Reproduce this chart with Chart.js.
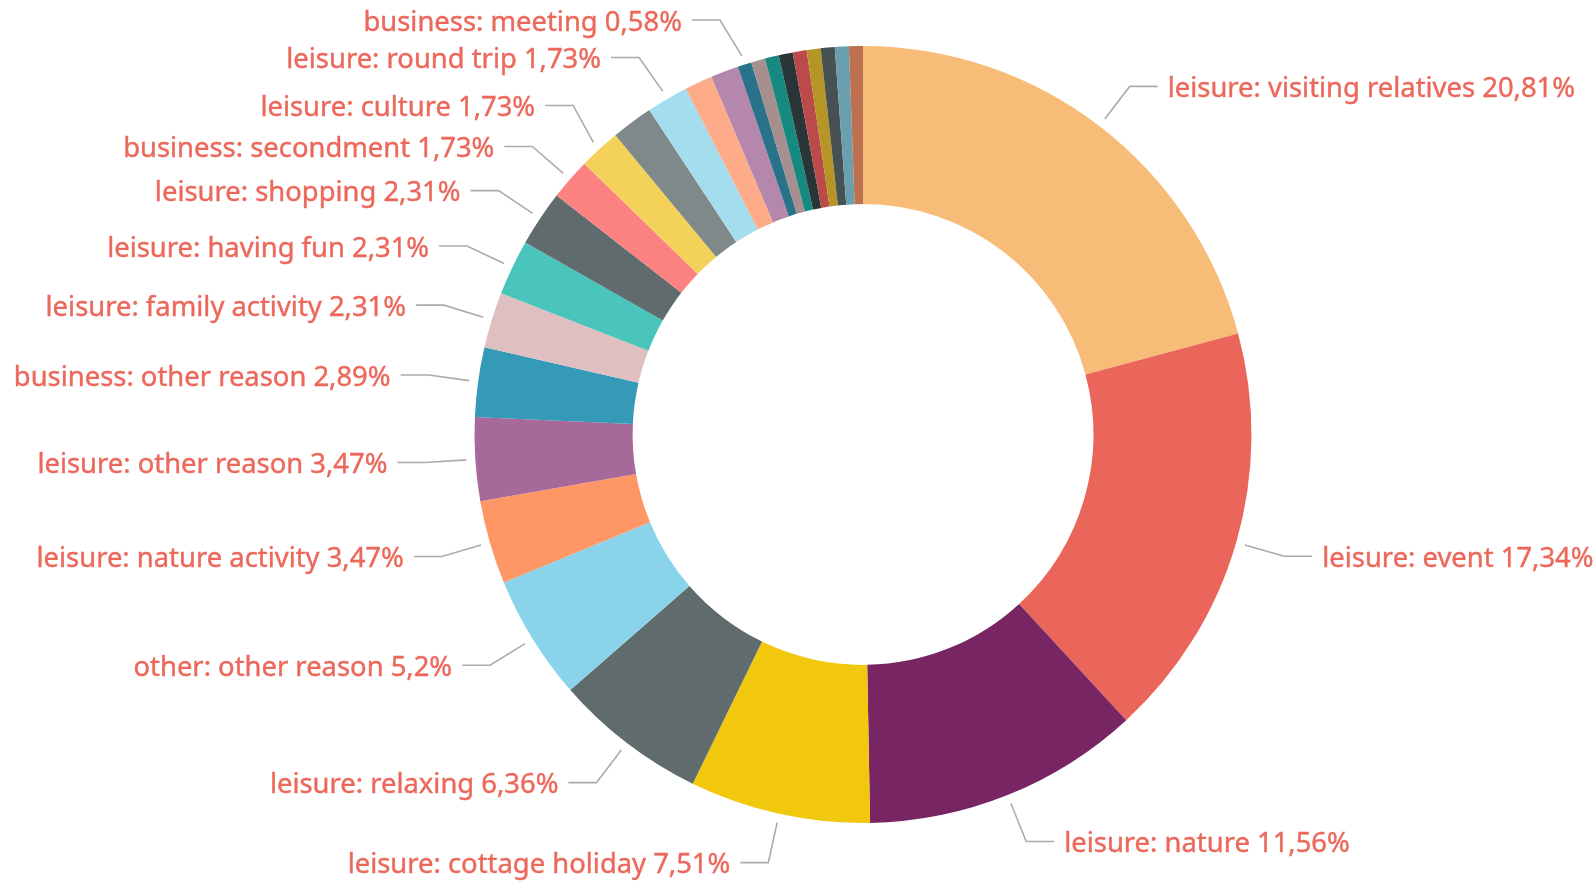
<!DOCTYPE html>
<html>
<head>
<meta charset="utf-8">
<script src="https://cdn.jsdelivr.net/npm/chart.js@4.4.1/dist/chart.umd.min.js"></script>
<style>
html,body{margin:0;padding:0;background:#ffffff;overflow:hidden}
#wrap{position:relative;width:1596px;height:881px}
</style>
</head>
<body>
<div id="wrap"><canvas id="c" width="1596" height="881"></canvas></div>
<script>
// ---- data ----
const categories = [
  "leisure: visiting relatives", "leisure: event", "leisure: nature", "leisure: cottage holiday",
  "leisure: relaxing", "other: other reason", "leisure: nature activity", "leisure: other reason",
  "business: other reason", "leisure: family activity", "leisure: having fun", "leisure: shopping",
  "business: secondment", "leisure: culture", "category 15", "leisure: round trip",
  "category 17", "category 18", "business: meeting", "category 20", "category 21",
  "category 22", "category 23", "category 24", "category 25", "category 26", "category 27"
];
const percentages = [
  20.81, 17.34, 11.56, 7.51, 6.36, 5.2, 3.47, 3.47, 2.89, 2.31, 2.31, 2.31,
  1.73, 1.73, 1.73, 1.73, 1.16, 1.16, 0.58, 0.58, 0.58, 0.58, 0.58, 0.58, 0.58, 0.58, 0.58
];
const labelled = [
  true, true, true, true, true, true, true, true, true, true, true, true,
  true, true, false, true, false, false, true, false, false, false, false, false, false, false, false
];
const sliceColors = [
  "#F7BC78", "#EB665A", "#772663", "#F2C80F", "#5F6B6D", "#8AD4EB", "#FE9666", "#A66999",
  "#3599B8", "#DFBFBF", "#4AC5BB", "#5F6B6D", "#FB8281", "#F4D25A", "#7F898A", "#A4DDEE",
  "#FDAB89", "#B687AC", "#28738A", "#A78F8F", "#168980", "#293537", "#BB4A4A", "#B59525",
  "#475052", "#6A9FB0", "#BD7150"
];

const LABEL_COLOR = "#EC685B";
const LINE_COLOR = "#ABABAB";
const FONT = "400 27.4px 'Noto Sans', 'Open Sans', sans-serif";

function fmt(v) { return String(v).replace('.', ',') + '%'; }

const outsideLabels = {
  id: 'outsideLabels',
  afterDatasetsDraw(chart) {
    const ctx = chart.ctx;
    const meta = chart.getDatasetMeta(0);
    const items = [];
    let cx = 0, cy = 0, R = 0;
    meta.data.forEach((arc, i) => {
      const p = arc.getProps(['x', 'y', 'startAngle', 'endAngle', 'outerRadius'], true);
      cx = p.x; cy = p.y; R = p.outerRadius;
      if (!labelled[i]) return;
      const mid = (p.startAngle + p.endAngle) / 2;
      items.push({ i, mid, right: Math.cos(mid) >= 0 });
    });
    const rStart = R + 9, rElbow = R + 50, horiz = 28, gap = 10;
    const minGap = 41, minGapDown = 37.5, topMin = 20;
    ['L', 'R'].forEach(side => {
      const list = items.filter(it => (side === 'R') === it.right);
      list.forEach(it => { it.y = cy + rElbow * Math.sin(it.mid); });
      list.sort((a, b) => a.y - b.y);
      for (let k = list.length - 2; k >= 0; k--) {
        if (list[k + 1].y - list[k].y < minGap) list[k].y = list[k + 1].y - minGap;
      }
      if (list.length && list[0].y < topMin) {
        list[0].y = topMin;
        for (let k = 1; k < list.length; k++) {
          if (list[k].y - list[k - 1].y < minGapDown) list[k].y = list[k - 1].y + minGapDown;
        }
      }
    });
    ctx.save();
    ctx.font = FONT;
    ctx.textBaseline = 'middle';
    items.forEach(it => {
      const sx = cx + rStart * Math.cos(it.mid);
      const sy = cy + rStart * Math.sin(it.mid);
      const dy = it.y - cy;
      const dx = Math.sqrt(Math.max(rElbow * rElbow - dy * dy, 0));
      const ex = it.right ? cx + dx : cx - dx;
      const hx = it.right ? ex + horiz : ex - horiz;
      ctx.strokeStyle = LINE_COLOR;
      ctx.lineWidth = 1.6;
      ctx.beginPath();
      ctx.moveTo(sx, sy);
      ctx.lineTo(ex, it.y);
      ctx.lineTo(hx, it.y);
      ctx.stroke();
      ctx.fillStyle = LABEL_COLOR;
      ctx.strokeStyle = LABEL_COLOR;
      ctx.lineWidth = 0.4;
      ctx.textAlign = it.right ? 'left' : 'right';
      const tx = it.right ? hx + gap : hx - gap;
      const txt = categories[it.i] + ' ' + fmt(percentages[it.i]);
      ctx.fillText(txt, tx, it.y + 3);
      ctx.strokeText(txt, tx, it.y + 3);
    });
    ctx.restore();
  }
};

new Chart(document.getElementById('c'), {
  type: 'doughnut',
  data: {
    labels: categories,
    datasets: [{
      data: percentages,
      backgroundColor: sliceColors,
      borderWidth: 0,
      hoverOffset: 0
    }]
  },
  options: {
    responsive: false,
    animation: false,
    cutout: '59.3%',
    layout: { padding: { top: 46, bottom: 58, left: 130, right: 0 } },
    plugins: { legend: { display: false }, tooltip: { enabled: false } }
  },
  plugins: [outsideLabels]
});
</script>
</body>
</html>
